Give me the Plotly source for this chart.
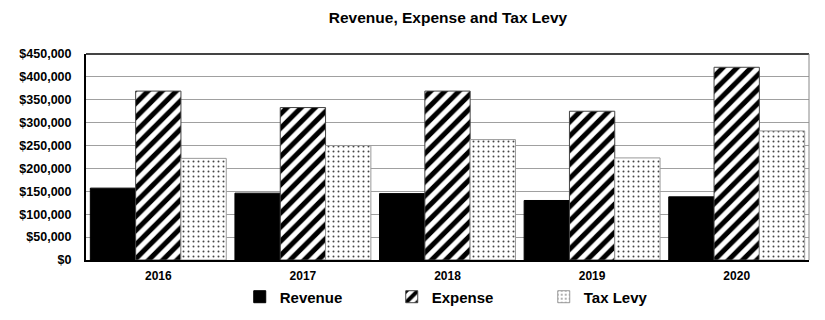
import plotly.graph_objects as go

years = ["2016", "2017", "2018", "2019", "2020"]
revenue = [157000, 146000, 145000, 130000, 138000]
expense = [369000, 333000, 369000, 325000, 421000]
tax_levy = [222000, 250000, 263000, 223000, 282000]

tick_vals = [0, 50000, 100000, 150000, 200000, 250000, 300000, 350000, 400000, 450000]
tick_text = ["$0", "$50,000", "$100,000", "$150,000", "$200,000", "$250,000",
             "$300,000", "$350,000", "$400,000", "$450,000"]

font_family = "Liberation Sans, Arial, sans-serif"

fig = go.Figure()
fig.add_trace(go.Bar(
    name="<b>Revenue</b>", x=years, y=revenue,
    marker=dict(color="black", line=dict(color="black", width=1)),
))
fig.add_trace(go.Bar(
    name="<b>Expense</b>", x=years, y=expense,
    marker=dict(
        color="white",
        line=dict(color="#444444", width=1),
        pattern=dict(shape="/", fgcolor="black", bgcolor="white", fgopacity=1,
                     size=10, solidity=0.5),
    ),
))
fig.add_trace(go.Bar(
    name="<b>Tax Levy</b>", x=years, y=tax_levy,
    marker=dict(
        color="white",
        line=dict(color="#999999", width=1),
        pattern=dict(shape=".", fgcolor="#444444", bgcolor="white", fgopacity=1,
                     size=5, solidity=0.12),
    ),
))

fig.update_layout(
    width=825, height=320,
    margin=dict(l=86, r=16, t=54, b=60, autoexpand=False),
    paper_bgcolor="white", plot_bgcolor="white",
    barmode="group", bargap=0.06, bargroupgap=0,
    font=dict(family=font_family, color="black"),
    title=dict(text="<b>Revenue, Expense and Tax Levy</b>", x=0.543, xanchor="center",
               y=0.945, yanchor="middle", font=dict(size=15.5, family=font_family)),
    showlegend=True,
    legend=dict(orientation="h", x=0.528, xanchor="center",
                yref="container", y=0.072, yanchor="middle",
                bgcolor="rgba(0,0,0,0)",
                font=dict(size=15, family=font_family), itemwidth=30,
                traceorder="normal", entrywidth=107),
)
fig.update_xaxes(
    showline=True, linecolor="black", linewidth=2, mirror=False,
    tickfont=dict(size=12, family=font_family), ticks="", ticklabelstandoff=4,
    tickprefix="<b>", ticksuffix="</b>",
)
fig.update_yaxes(
    range=[0, 450000], tickvals=tick_vals,
    ticktext=["<b>" + t + "</b>" for t in tick_text],
    tickfont=dict(size=12.5, family=font_family), ticklabelstandoff=10,
    showgrid=True, gridcolor="#a0a0a0", gridwidth=1,
    showline=True, linecolor="black", linewidth=2, ticks="", zeroline=False,
)
# thin frame on the top and right edges of the plot area
fig.add_shape(type="line", xref="paper", yref="paper", x0=0, x1=1, y0=1, y1=1,
              line=dict(color="#444444", width=2))
fig.add_shape(type="line", xref="paper", yref="paper", x0=1, x1=1, y0=0, y1=1,
              line=dict(color="#888888", width=1))

fig.write_html("out.html")
